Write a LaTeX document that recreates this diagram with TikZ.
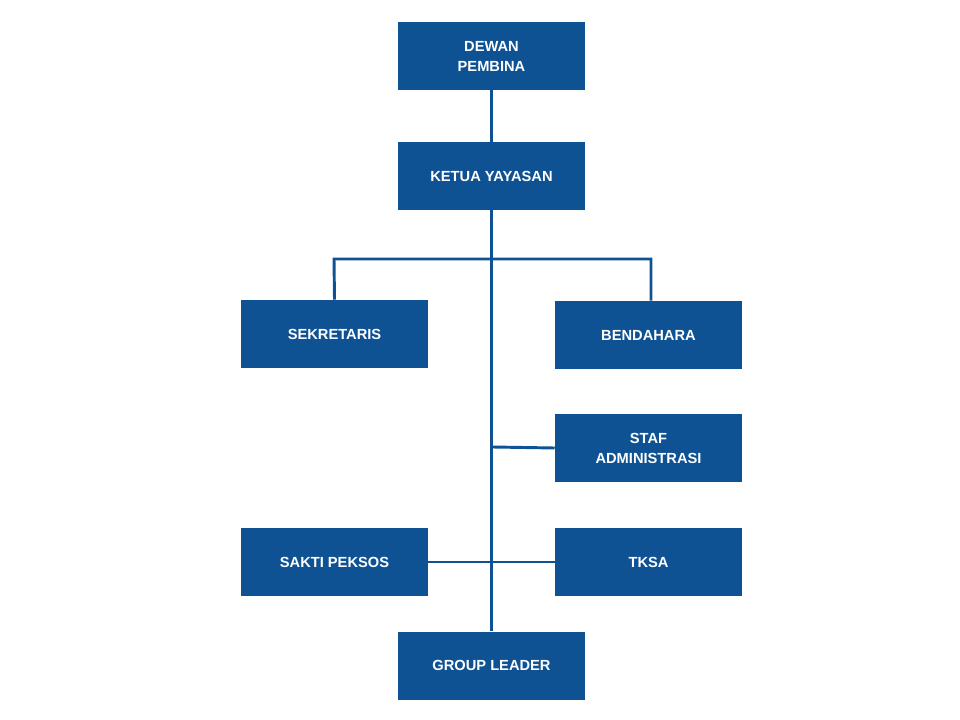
\documentclass[tikz,border=0pt]{standalone}
\usepackage{fontspec}
\setmainfont{Liberation Sans}
\definecolor{boxblue}{RGB}{14,82,148}
\begin{document}
\begin{tikzpicture}[x=0.75pt,y=-0.75pt,
  orgbox/.style={draw=none,fill=boxblue,minimum width=187*0.75pt,minimum height=68*0.75pt,inner sep=0pt,text=white,font=\bfseries\fontsize{11}{15}\selectfont,align=center},
  link/.style={draw=boxblue,line width=2.2pt}]
\useasboundingbox (0,0) rectangle (960,720);
\node[orgbox] (dewan) at (491.5,56) {DEWAN\\PEMBINA};
\node[orgbox] (ketua) at (491.5,176) {KETUA YAYASAN};
\node[orgbox] (sekr) at (334.5,334) {SEKRETARIS};
\node[orgbox] (bend) at (648.5,335) {BENDAHARA};
\node[orgbox] (staf) at (648.5,448) {STAF\\ADMINISTRASI};
\node[orgbox] (sakti) at (334.5,562) {SAKTI PEKSOS};
\node[orgbox] (tksa) at (648.5,562) {TKSA};
\node[orgbox] (group) at (491.5,665.5) {GROUP LEADER};
\coordinate (hub) at (491,259);
\draw[link] (dewan.south) -- (ketua.north);
\draw[link] (ketua.south) -- (group.north);
\draw[link] (sekr.north) -- (334,259) -- (651,259) -- (bend.north -| 651,0);
\draw[link] (493,447) -- (staf.west);
\draw[link] (sakti.east) -- (tksa.west);
\end{tikzpicture}
\end{document}
